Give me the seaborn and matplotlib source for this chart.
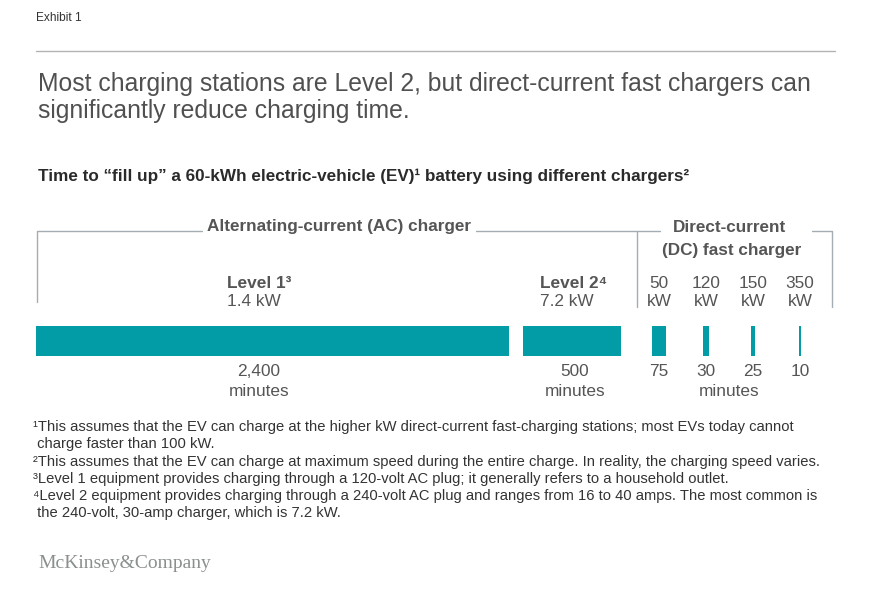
import numpy as np
import matplotlib
matplotlib.use("Agg")
import matplotlib.pyplot as plt
import seaborn as sns

# ==========================================================
# DATA
# ==========================================================

chargers = ["Level 1", "Level 2", "50 kW", "120 kW", "150 kW", "350 kW"]
groups = ["AC", "AC", "DC", "DC", "DC", "DC"]
minutes = [2400, 500, 75, 30, 25, 10]
value_labels = ["2,400", "500", "75", "30", "25", "10"]
power_top = ["Level 1³", "Level 2⁴", "50", "120", "150", "350"]
power_bottom = ["1.4 kW", "7.2 kW", "kW", "kW", "kW", "kW"]

title_lines = [
    "Most charging stations are Level 2, but direct-current fast chargers can",
    "significantly reduce charging time.",
]
subtitle = "Time to “fill up” a 60-kWh electric-vehicle (EV)¹ battery using different chargers²"
footnotes = [
    "¹This assumes that the EV can charge at the higher kW direct-current fast-charging stations; most EVs today cannot",
    " charge faster than 100 kW.",
    "²This assumes that the EV can charge at maximum speed during the entire charge. In reality, the charging speed varies.",
    "³Level 1 equipment provides charging through a 120-volt AC plug; it generally refers to a household outlet.",
    "⁴Level 2 equipment provides charging through a 240-volt AC plug and ranges from 16 to 40 amps. The most common is",
    " the 240-volt, 30-amp charger, which is 7.2 kW.",
]

# ==========================================================
# STYLE
# ==========================================================

sns.set_theme(style="white")
plt.rcParams["font.family"] = ["Liberation Sans", "DejaVu Sans"]

W, H = 895, 605
TEAL = "#029ca6"
LINE = "#a3adb3"
GREY = "#555555"

fig = plt.figure(figsize=(W / 100, H / 100), dpi=100)
ax = fig.add_axes([0, 0, 1, 1])

# x in minutes: minute 0 sits at px 36
scale = 0.197
x0 = 36
ax.set_xlim(-x0 / scale, (W - x0) / scale)
ax.set_ylim(H, 0)
ax.axis("off")


def px(x):
    # pixel x -> minutes axis
    return (x - x0) / scale


# bar positions: AC bars side by side, DC bars centered in equal slots
gap = 14 / scale
slot = 47 / scale
lefts = []
centers = []
pos = 0
for i, (g, m) in enumerate(zip(groups, minutes)):
    if g == "AC":
        lefts.append(pos)
        centers.append(pos + m / 2)
        pos += m + gap
    else:
        k = groups[:i].count("DC")
        c = px(659) + k * slot
        lefts.append(c - m / 2)
        centers.append(c)

ax.barh([341] * len(minutes), minutes, left=lefts, height=30,
        color=TEAL, edgecolor="none")

# ==========================================================
# TEXT
# ==========================================================

ax.text(px(36), 18, "Exhibit 1", fontsize=8.6, color="#333333", va="center")
ax.plot([px(36), px(835)], [51, 51], color="#b3b3b3", lw=1)

ax.text(px(38), 84, title_lines[0], fontsize=17.8, color="#505050", va="center")
ax.text(px(38), 111, title_lines[1], fontsize=17.8, color="#505050", va="center")
ax.text(px(38), 176, subtitle, fontsize=12.3, color="#2a2a2a", va="center",
        weight="bold")

# brackets
ax.plot([px(37), px(37), px(202)], [302, 231, 231], color=LINE, lw=1)
ax.plot([px(476), px(637)], [231, 231], color=LINE, lw=1)
ax.plot([px(637), px(637), px(660)], [307, 231, 231], color=LINE, lw=1)
ax.plot([px(812), px(832), px(832)], [231, 231, 307], color=LINE, lw=1)

ax.text(px(339), 227, "Alternating-current (AC) charger", fontsize=12.3,
        color=GREY, ha="center", va="center", weight="bold")
ax.text(px(730), 227, "Direct-current", fontsize=12.3,
        color=GREY, ha="center", va="center", weight="bold")
ax.text(px(732), 251, "(DC) fast charger", fontsize=12.3,
        color=GREY, ha="center", va="center", weight="bold")

label_x = [px(227), px(540)]
for i, g in enumerate(groups):
    if g == "AC":
        ax.text(label_x[i], 283, power_top[i], fontsize=12.4, color=GREY,
                va="center", weight="bold")
        ax.text(label_x[i], 302, power_bottom[i], fontsize=12.4, color=GREY,
                va="center")
    else:
        ax.text(centers[i], 283, power_top[i], fontsize=12.4, color=GREY,
                ha="center", va="center")
        ax.text(centers[i], 302, power_bottom[i], fontsize=12.4, color=GREY,
                ha="center", va="center")

value_x = [px(259), px(575)] + centers[2:]
for i in range(len(minutes)):
    ax.text(value_x[i], 372, value_labels[i], fontsize=12.4, color=GREY,
            ha="center", va="center")
ax.text(px(259), 392, "minutes", fontsize=12.4, color=GREY, ha="center", va="center")
ax.text(px(575), 392, "minutes", fontsize=12.4, color=GREY, ha="center", va="center")
ax.text(np.mean(centers[2:]), 392, "minutes", fontsize=12.4, color=GREY,
        ha="center", va="center")

foot_y = [427, 444, 462, 479, 496, 513]
for y, line in zip(foot_y, footnotes):
    ax.text(px(33), y, line, fontsize=10.6, color="#333333", va="center")

ax.text(px(38), 563, "McKinsey&Company", fontsize=14, color="#8a8f8f",
        va="center", family=["Liberation Serif", "DejaVu Serif"])

fig.savefig("out.png", dpi=100, facecolor="white")
